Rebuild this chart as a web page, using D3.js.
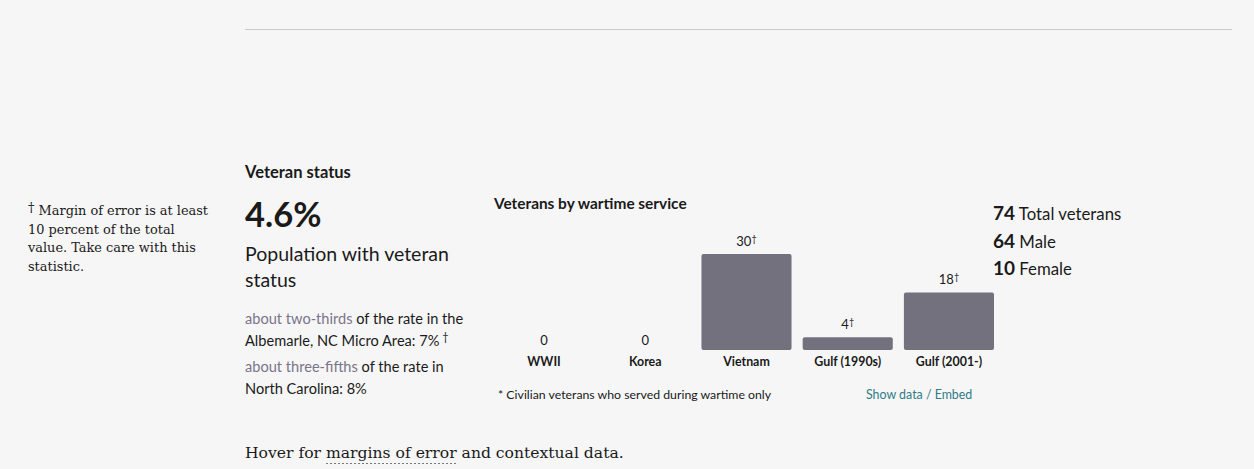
<!DOCTYPE html>
<html>
<head>
<meta charset="utf-8">
<script src="https://cdn.jsdelivr.net/npm/d3@7"></script>
<style>
  body { margin: 0; background: #f6f6f6; }
  svg { display: block; }
</style>
</head>
<body>
<script>
// wartime service bars
const categories = ["WWII", "Korea", "Vietnam", "Gulf (1990s)", "Gulf (2001-)"];
const values = [0, 0, 30, 4, 18];
const flagged = [false, false, true, true, true]; // dagger = big margin of error

const statNumbers = [74, 64, 10];
const statLabels = ["Total veterans", "Male", "Female"];

const width = 1254, height = 469;
const sans = "Lato, 'Open Sans', sans-serif";
const serif = "'DejaVu Serif', serif";
const ink = "#1a1a1a";

const svg = d3.select("body").append("svg")
	.attr("width", width)
	.attr("height", height);

svg.append("rect").attr("width", width).attr("height", height).attr("fill", "#f6f6f6");

// faint rule at the top
svg.append("line")
	.attr("x1", 245).attr("x2", 1232)
	.attr("y1", 29.5).attr("y2", 29.5)
	.attr("stroke", "#c9c9c9");

// left footnote
const note = ["Margin of error is at least", "10 percent of the total", "value. Take care with this", "statistic."];
const noteText = svg.append("text")
	.attr("font-family", serif)
	.attr("font-size", 12.9)
	.attr("fill", ink);
note.forEach((line, i) => {
	const t = noteText.append("tspan").attr("x", 28).attr("y", 215 + i * 18.5);
	if (i == 0) {
		t.append("tspan").attr("font-size", 13).attr("dy", -3).text("†");
		t.append("tspan").attr("dy", 3).text(" " + line);
	} else t.text(line);
});

// Veteran status block
svg.append("text")
	.attr("x", 245).attr("y", 178)
	.attr("font-family", sans).attr("font-weight", 700).attr("font-size", 16.5)
	.attr("fill", ink)
	.text("Veteran status");

svg.append("text")
	.attr("x", 245).attr("y", 227)
	.attr("font-family", sans).attr("font-weight", 700).attr("font-size", 34.5)
	.attr("fill", ink)
	.text("4.6%");

svg.append("text")
	.attr("font-family", sans).attr("font-size", 19.5).attr("fill", ink)
	.selectAll("tspan")
	.data(["Population with veteran", "status"])
	.join("tspan")
		.attr("x", 245)
		.attr("y", (d, i) => 261 + i * 26)
		.text(d => d);

const compare = [
	{ hi: "about two-thirds", rest: [" of the rate in the", "Albemarle, NC Micro Area: 7%"], dagger: true, y: 324 },
	{ hi: "about three-fifths", rest: [" of the rate in", "North Carolina: 8%"], dagger: false, y: 372 }
];
compare.forEach((c) => {
	const t = svg.append("text").attr("font-family", sans).attr("font-size", 14.6).attr("fill", ink);
	t.append("tspan").attr("x", 245).attr("y", c.y).attr("fill", "#7a7489").text(c.hi);
	t.append("tspan").text(c.rest[0]);
	t.append("tspan").attr("x", 245).attr("y", c.y + 22).text(c.rest[1]);
	if (c.dagger) t.append("tspan").attr("font-size", 11).attr("dy", -5).text(" †");
});

// bar chart
svg.append("text")
	.attr("x", 494).attr("y", 209)
	.attr("font-family", sans).attr("font-weight", 700).attr("font-size", 15.4)
	.attr("fill", ink)
	.text("Veterans by wartime service");

const x = d3.scaleBand()
	.domain(categories)
	.range([499, 994])
	.paddingInner(0.11)
	.paddingOuter(0);

const y = d3.scaleLinear()
	.domain([0, 30])
	.range([350, 254]);

const data = categories.map((c, i) => ({ cat: c, v: values[i], flag: flagged[i] }));

svg.selectAll(".bar")
	.data(data)
	.join("rect")
		.attr("class", "bar")
		.attr("x", d => x(d.cat))
		.attr("y", d => y(d.v))
		.attr("width", x.bandwidth())
		.attr("height", d => y(0) - y(d.v))
		.attr("rx", 2)
		.attr("fill", "#74717f");

const lbl = svg.selectAll(".val")
	.data(data)
	.join("text")
		.attr("class", "val")
		.attr("x", d => x(d.cat) + x.bandwidth() / 2)
		.attr("y", d => d.v > 0 ? y(d.v) - 8 : 345)
		.attr("text-anchor", "middle")
		.attr("font-family", sans).attr("font-size", 13)
		.attr("fill", ink);
lbl.append("tspan").text(d => d.v);
lbl.filter(d => d.flag).append("tspan").attr("font-size", 9).attr("dy", -4).text("†");

const xAxis = d3.axisBottom(x).tickSize(0).tickPadding(0);
svg.append("g")
	.attr("transform", "translate(0,357)")
	.call(xAxis)
	.call(g => g.select(".domain").remove())
	.selectAll("text")
		.attr("dy", "0.71em")
		.attr("font-family", sans).attr("font-weight", 700).attr("font-size", 12.4)
		.attr("fill", ink);

svg.append("text")
	.attr("x", 498).attr("y", 399)
	.attr("font-family", sans).attr("font-size", 12.3)
	.attr("fill", ink)
	.text("* Civilian veterans who served during wartime only");

svg.append("text")
	.attr("x", 866).attr("y", 399)
	.attr("font-family", sans).attr("font-size", 12.4)
	.attr("fill", "#2f7b86")
	.text("Show data / Embed");

// totals on the right
const stats = svg.append("g").attr("font-family", sans).attr("fill", ink);
statNumbers.forEach((n, i) => {
	const t = stats.append("text").attr("x", 993).attr("y", 220 + i * 27.5);
	t.append("tspan").attr("font-weight", 700).attr("font-size", 19).text(n);
	t.append("tspan").attr("font-size", 16.8).text(" " + statLabels[i]);
});

// hover hint at the bottom
const hint = svg.append("text")
	.attr("x", 245).attr("y", 458)
	.attr("font-family", serif).attr("font-size", 15.6)
	.attr("fill", ink);
hint.append("tspan").text("Hover for ");
const mo = hint.append("tspan").text("margins of error");
hint.append("tspan").text(" and contextual data.");

const moStart = mo.node().getStartPositionOfChar(0).x;
const moEnd = mo.node().getEndPositionOfChar("margins of error".length - 1).x;
svg.append("line")
	.attr("x1", moStart).attr("x2", moEnd)
	.attr("y1", 463.5).attr("y2", 463.5)
	.attr("stroke", "#777")
	.attr("stroke-dasharray", "2,2");
</script>
</body>
</html>
